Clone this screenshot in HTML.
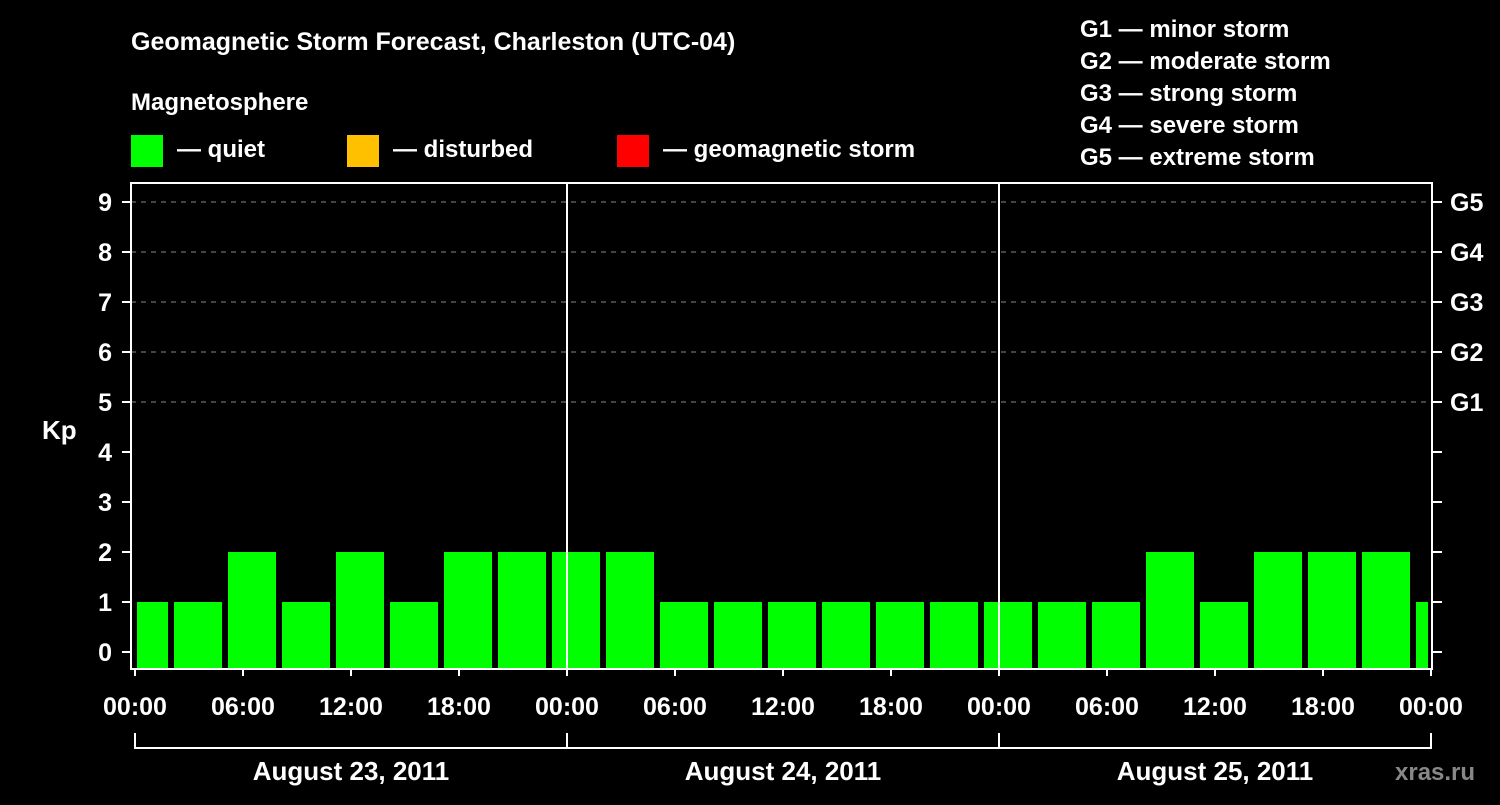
<!DOCTYPE html>
<html><head><meta charset="utf-8"><style>
body{margin:0;background:#000;width:1500px;height:800px;overflow:hidden}
svg text{font-family:"Liberation Sans",Arial,sans-serif;font-weight:bold;fill:#fff}
</style></head><body>
<svg id="c" width="1500" height="800" xmlns="http://www.w3.org/2000/svg">
<text x="131" y="50" font-size="25">Geomagnetic Storm Forecast, Charleston (UTC-04)</text>
<text x="131" y="110" font-size="24">Magnetosphere</text>
<rect x="131" y="135" width="32" height="32" fill="#00ff00"/>
<text x="177" y="157" font-size="24">— quiet</text>
<rect x="347" y="135" width="32" height="32" fill="#ffc000"/>
<text x="393" y="157" font-size="24">— disturbed</text>
<rect x="617" y="135" width="32" height="32" fill="#ff0000"/>
<text x="663" y="157" font-size="24">— geomagnetic storm</text>
<g font-size="24">
<text x="1080" y="37">G1 — minor storm</text>
<text x="1080" y="69">G2 — moderate storm</text>
<text x="1080" y="101">G3 — strong storm</text>
<text x="1080" y="133">G4 — severe storm</text>
<text x="1080" y="165">G5 — extreme storm</text>
</g>
<text x="42" y="439" font-size="26">Kp</text>
<text x="1395" y="780" font-size="24" style="fill:#888">xras.ru</text>
<g id="g"></g>
</svg>
<script>
const kpValues=[1,1,2,1,2,1,2,2,2,2,1,1,1,1,1,1,1,1,1,2,1,2,2,2,1];
const kpTicks=[0,1,2,3,4,5,6,7,8,9];
const gLabels=["G1","G2","G3","G4","G5"];
const dayLabels=["August 23, 2011","August 24, 2011","August 25, 2011"];
const hourLabels=["00:00","06:00","12:00","18:00"];
const firstBarStartHour=-1; // 23:00 previous day local
const NS="http://www.w3.org/2000/svg";
const g=document.getElementById('g');
const X0=135,PX_H=18,LEFT=131,RIGHT=1432,TOP=183,BOT=669;
const x=h=>X0+h*PX_H;
const y=v=>652-v*50;
function mk(t,a,p){const e=document.createElementNS(NS,t);for(const k in a)e.setAttribute(k,a[k]);(p||g).appendChild(e);return e;}
// grid
for(let v=5;v<=9;v++){const l=mk('line',{x1:LEFT,x2:RIGHT,y1:y(v),y2:y(v),stroke:'#888','stroke-width':1,'stroke-dasharray':'5,5'});

}
// bars
kpValues.forEach((v,i)=>{let s=x(firstBarStartHour+i*3)+3,e=x(firstBarStartHour+i*3+3)-3;
s=Math.max(s,LEFT+6);e=Math.min(e,RIGHT-4);
const r=mk('rect',{x:s,y:y(v),width:e-s,height:668-y(v),fill:v>=5?'#ff0000':v>=4?'#ffc000':'#00ff00'});

});
// frame
const f=mk('rect',{x:LEFT,y:TOP,width:RIGHT-LEFT,height:BOT-TOP,fill:'none',stroke:'#fff','stroke-width':2});


// day separators
for(let d=1;d<dayLabels.length;d++){const l=mk('line',{x1:x(d*24),x2:x(d*24),y1:TOP,y2:BOT,stroke:'#fff','stroke-width':2});

}
// y ticks
kpTicks.forEach(v=>{mk('line',{x1:122,x2:LEFT,y1:y(v),y2:y(v),stroke:'#fff','stroke-width':2});
mk('line',{x1:RIGHT,x2:1442,y1:y(v),y2:y(v),stroke:'#fff','stroke-width':2});
const t=mk('text',{x:112,y:y(v)+9,'text-anchor':'end','font-size':25});t.textContent=v;

});
gLabels.forEach((s,i)=>{const t=mk('text',{x:1450,y:y(5+i)+9,'font-size':25});t.textContent=s;

});
// x ticks
for(let d=0;d<dayLabels.length;d++){for(let k=0;k<4;k++){const h=d*24+k*6;
mk('line',{x1:x(h),x2:x(h),y1:BOT,y2:676,stroke:'#fff','stroke-width':2});
const t=mk('text',{x:x(h),y:715,'text-anchor':'middle','font-size':25});t.textContent=hourLabels[k];

}
mk('line',{x1:x(d*24),x2:x(d*24+24),y1:748,y2:748,stroke:'#fff','stroke-width':2});
mk('line',{x1:x(d*24),x2:x(d*24),y1:733,y2:749,stroke:'#fff','stroke-width':2});
const t=mk('text',{x:x(d*24+12),y:780,'text-anchor':'middle','font-size':26});t.textContent=dayLabels[d];

}
const endH=dayLabels.length*24;
mk('line',{x1:x(endH),x2:x(endH),y1:BOT,y2:676,stroke:'#fff','stroke-width':2});
mk('line',{x1:x(endH),x2:x(endH),y1:733,y2:749,stroke:'#fff','stroke-width':2});
const te=mk('text',{x:x(endH),y:715,'text-anchor':'middle','font-size':25});te.textContent=hourLabels[0];


</script>
</body></html>
